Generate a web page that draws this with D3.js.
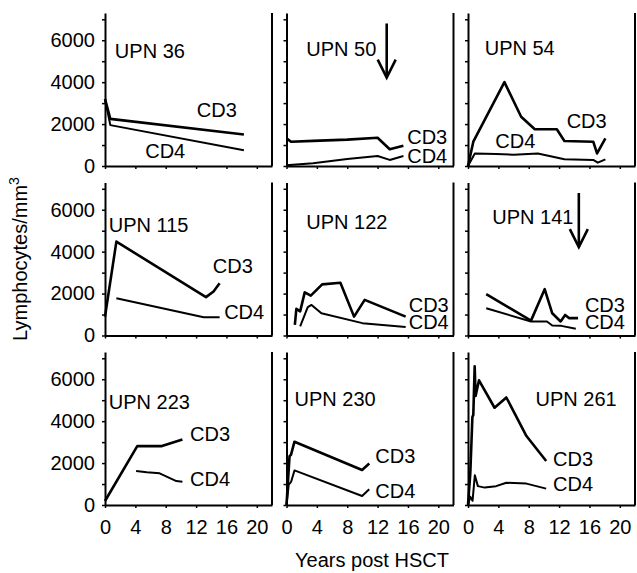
<!DOCTYPE html>
<html>
<head>
<meta charset="utf-8">
<script src="https://cdn.jsdelivr.net/npm/d3@7"></script>
<style>
  body { margin: 0; background: #fff; }
  svg { display: block; font-family: "Liberation Sans", Arial, sans-serif; }
</style>
</head>
<body>
<div id="chart"></div>
<script>
// Lymphocyte counts per patient: [years post HSCT, cells/mm3]
const upn36_cd3 = [[0, 3200], [0.7, 2250], [18.3, 1500]];
const upn36_cd4 = [[0, 3200], [0.7, 1950], [18.3, 750]];

const upn50_cd3 = [[0, 1320], [0.6, 1160], [3.5, 1200], [8, 1260], [12, 1350], [13.6, 800], [15.4, 970]];
const upn50_cd4 = [[0, 30], [3.5, 130], [8, 330], [12, 480], [13.6, 290], [15.4, 480]];

const upn54_cd3 = [[0, 0], [0.7, 1160], [4.8, 4000], [7, 2350], [8.8, 1750], [11.7, 1750], [12.7, 1190], [16.5, 1160], [17, 600], [18.1, 1320]];
const upn54_cd4 = [[0, 0], [0.9, 600], [3.7, 570], [6, 540], [9.2, 600], [12.7, 320], [16.5, 290], [17.1, 160], [18.1, 320]];

const upn115_cd3 = [[0, 900], [1.5, 4480], [13.3, 1830], [14.3, 2100], [15.1, 2490]];
const upn115_cd4 = [[1.5, 1780], [13, 870], [15.1, 870]];

const upn122_cd3 = [[1.1, 510], [1.3, 1270], [1.8, 1150], [2.4, 2060], [3.2, 1900], [4.7, 2440], [7.1, 2520], [8.9, 900], [10.3, 1700], [15.7, 900]];
const upn122_cd4 = [[1.8, 430], [2.8, 1350], [3.3, 1460], [4.6, 1060], [10, 590], [15.7, 400]];

const upn141_cd3 = [[2.4, 1970], [8.3, 710], [10.1, 2210], [11.1, 1060], [12.2, 670], [12.8, 980], [13.3, 830], [14.5, 830]];
const upn141_cd4 = [[2.4, 1300], [8.3, 670], [10.4, 670], [11.1, 480], [12.3, 460], [14.2, 320]];

const upn223_cd3 = [[0, 190], [4.25, 2810], [7.5, 2810], [10.2, 3130]];
const upn223_cd4 = [[4.1, 1620], [5.5, 1560], [7.2, 1510], [9.4, 1140], [10.2, 1110]];

const upn230_cd3 = [[0, 0], [0.4, 2330], [0.6, 2400], [1.05, 3020], [9.96, 1670], [10.9, 1980]];
const upn230_cd4 = [[0, 0], [0.3, 980], [0.6, 1100], [1.05, 1650], [9.96, 430], [10.9, 750]];

const upn261_cd3 = [[0, 0], [0.3, 1500], [0.58, 4200], [0.7, 4300], [0.88, 6620], [1.0, 5200], [1.45, 5950], [3.5, 4640], [5.05, 5130], [7.7, 3290], [10.3, 2100]];
const upn261_cd4 = [[0, 0], [0.3, 400], [0.6, 200], [0.9, 1420], [1.3, 900], [2.2, 830], [3.7, 900], [5.05, 1060], [7.7, 1020], [10.3, 780]];

const panelNames = ["UPN 36", "UPN 50", "UPN 54", "UPN 115", "UPN 122", "UPN 141", "UPN 223", "UPN 230", "UPN 261"];
const cd3Series = [upn36_cd3, upn50_cd3, upn54_cd3, upn115_cd3, upn122_cd3, upn141_cd3, upn223_cd3, upn230_cd3, upn261_cd3];
const cd4Series = [upn36_cd4, upn50_cd4, upn54_cd4, upn115_cd4, upn122_cd4, upn141_cd4, upn223_cd4, upn230_cd4, upn261_cd4];

// arrows (year marked in panel)
const arrowYears = { "UPN 50": 13.2, "UPN 141": 14.6 };

const xTicks = [0, 4, 8, 12, 16, 20];
const yTicks = [0, 1000, 2000, 3000, 4000, 5000, 6000, 7000];
const yLabelled = [0, 2000, 4000, 6000];

// where the text labels sit, in data units [year, count]
const labelSpots = {
  "UPN 36":  { name: [1.3, 5150], cd3: [12.1, 2340], cd4: [5.3, 380] },
  "UPN 50":  { name: [2.6, 5250], cd3: [15.9, 1050], cd4: [15.9, 140] },
  "UPN 54":  { name: [2.2, 5300], cd3: [13.0, 1810], cd4: [3.6, 860] },
  "UPN 115": { name: [0.5, 4960], cd3: [14.2, 2960], cd4: [15.7, 810] },
  "UPN 122": { name: [2.6, 5100], cd3: [16.1, 1145], cd4: [16.1, 290] },
  "UPN 141": { name: [3.2, 5340], cd3: [15.4, 1145], cd4: [15.4, 290] },
  "UPN 223": { name: [0.5, 4580], cd3: [11.2, 3050], cd4: [11.2, 900] },
  "UPN 230": { name: [1.05, 4720], cd3: [11.7, 2000], cd4: [11.7, 330] },
  "UPN 261": { name: [8.9, 4720], cd3: [11.2, 1860], cd4: [11.2, 670] }
};

const width = 637, height = 573;
const pw = 167, ph = 153;
const left0 = 105, colStep = 181.5;
const top0 = 13, rowStep = 169.5;

const svg = d3.select("#chart")
  .append("svg")
  .attr("width", width)
  .attr("height", height);

const x = d3.scaleLinear().domain([0, 22]).range([0, pw]);
const y = d3.scaleLinear().domain([0, 7300]).range([ph, 0]);

const line = d3.line()
  .x(d => x(d[0]))
  .y(d => y(d[1]));

panelNames.forEach((name, i) => {
  const col = i % 3, row = Math.floor(i / 3);
  const g = svg.append("g")
    .attr("transform", `translate(${left0 + col * colStep},${top0 + row * rowStep})`);

  // left axis with small ticks
  const yAxis = d3.axisLeft(y)
    .tickValues(yTicks)
    .tickSizeInner(3)
    .tickSizeOuter(0)
    .tickPadding(7)
    .tickFormat(d => (col === 0 && yLabelled.includes(d)) ? d : "");
  const ya = g.append("g").call(yAxis);

  // bottom axis
  const xAxis = d3.axisBottom(x)
    .tickValues(xTicks)
    .tickSizeInner(3)
    .tickSizeOuter(0)
    .tickPadding(12)
    .tickFormat(d => row === 2 ? d : "");
  const xa = g.append("g").attr("transform", `translate(0,${ph})`).call(xAxis);

  [ya, xa].forEach(a => {
    a.select(".domain").attr("stroke", "#000").attr("stroke-width", 2);
    a.selectAll(".tick line").attr("stroke", "#000").attr("stroke-width", 1.5);
    a.selectAll("text").attr("fill", "#000").style("font-size", "20px")
      .style("font-family", '"Liberation Sans", Arial, sans-serif');
  });

  // right border
  g.append("line")
    .attr("x1", pw).attr("x2", pw)
    .attr("y1", 0).attr("y2", ph)
    .attr("stroke", "#000")
    .attr("stroke-width", 2);

  g.append("path")
    .datum(cd3Series[i])
    .attr("d", line)
    .attr("fill", "none")
    .attr("stroke", "#000")
    .attr("stroke-width", 2.6)
    .attr("stroke-linejoin", "round");

  g.append("path")
    .datum(cd4Series[i])
    .attr("d", line)
    .attr("fill", "none")
    .attr("stroke", "#000")
    .attr("stroke-width", 2)
    .attr("stroke-linejoin", "round");

  const spot = labelSpots[name];
  [[name, spot.name], ["CD3", spot.cd3], ["CD4", spot.cd4]].forEach(([txt, p]) => {
    g.append("text")
      .attr("x", x(p[0]))
      .attr("y", y(p[1]))
      .style("font-size", "20px")
      .attr("fill", "#000")
      .text(txt);
  });

  if (arrowYears[name] != null) {
    const ax = x(arrowYears[name]);
    const yTop = y(6800), yEnd = y(4220);
    g.append("line")
      .attr("x1", ax).attr("x2", ax)
      .attr("y1", yTop).attr("y2", yEnd)
      .attr("stroke", "#000").attr("stroke-width", 2.6);
    g.append("path")
      .attr("d", `M${ax - 9},${yEnd - 18}L${ax},${yEnd}L${ax + 9},${yEnd - 18}`)
      .attr("fill", "none")
      .attr("stroke", "#000")
      .attr("stroke-width", 2.6);
  }
});

// axis titles
svg.append("text")
  .attr("transform", "translate(27,259) rotate(-90)")
  .attr("text-anchor", "middle")
  .style("font-size", "20px")
  .text("Lymphocytes/mm")
  .append("tspan")
  .attr("dy", "-8")
  .style("font-size", "14px")
  .text("3");

svg.append("text")
  .attr("x", 372)
  .attr("y", 567)
  .attr("text-anchor", "middle")
  .style("font-size", "20px")
  .text("Years post HSCT");
</script>
</body>
</html>
